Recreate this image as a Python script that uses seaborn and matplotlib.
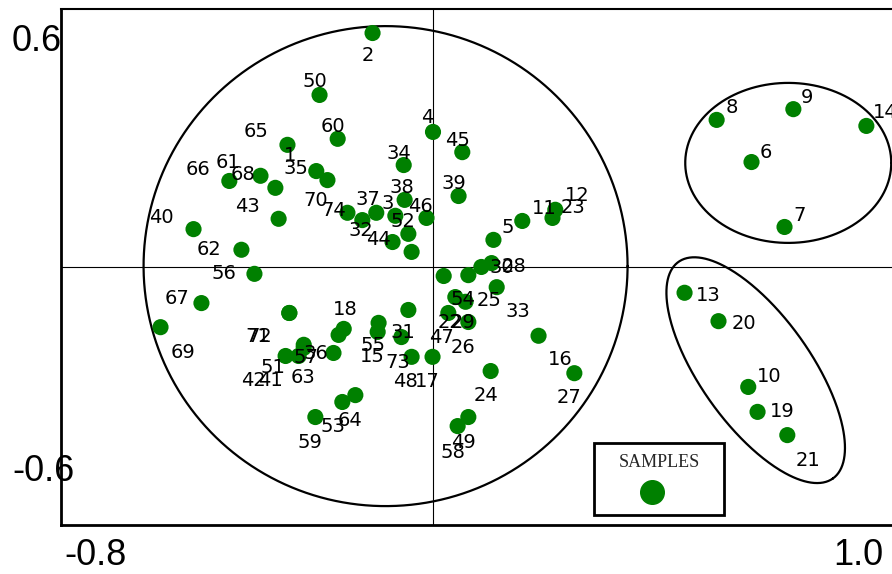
import numpy as np
import pandas as pd
import matplotlib
matplotlib.use("Agg")
import matplotlib.pyplot as plt
import matplotlib.transforms as mtransforms
from matplotlib.lines import Line2D
import seaborn as sns

# sample numbers and their coordinates on the two axes
sample_ids = list(range(1, 75))
x_vals = [-0.251, -0.130, -0.081, 0.000, 0.130, 0.685, 0.756, 0.610, 0.775, 0.678,
          0.192, 0.263, 0.541, 0.932, -0.119, 0.227, -0.001, -0.192, 0.698, 0.614,
          0.762, 0.048, 0.257, 0.124, 0.076, 0.076, 0.304, 0.126, 0.070, 0.104,
          -0.053, -0.087, 0.137, -0.063, -0.227, -0.203, -0.122, -0.061, 0.055, -0.515,
          -0.289, -0.317, -0.332, -0.046, 0.063, -0.014, 0.033, -0.046, 0.076, -0.244,
          -0.278, -0.053, -0.195, 0.023, -0.117, -0.384, -0.214, 0.053, -0.253, -0.205,
          -0.371, -0.412, -0.278, -0.167, -0.313, -0.438, -0.498, -0.339, -0.586, -0.184,
          -0.309, -0.309, -0.068, -0.152]
y_vals = [0.223, 0.544, 0.119, 0.314, 0.063, 0.244, 0.093, 0.342, 0.367, -0.279,
          0.107, 0.133, -0.060, 0.328, -0.151, -0.160, -0.209, -0.144, -0.337, -0.126,
          -0.391, -0.070, 0.114, -0.242, -0.019, -0.128, -0.247, 0.009, -0.081, 0.000,
          -0.100, 0.058, -0.047, 0.237, 0.202, -0.158, 0.126, 0.156, 0.165, 0.088,
          -0.207, -0.207, 0.112, 0.035, 0.267, 0.114, -0.107, -0.209, -0.349, 0.400,
          -0.181, 0.077, -0.314, -0.021, -0.130, -0.016, -0.200, -0.370, -0.349, 0.298,
          0.212, 0.040, -0.188, -0.298, 0.284, 0.200, -0.084, 0.184, -0.140, 0.126,
          -0.107, -0.107, -0.163, 0.109]

# where each number sits relative to its dot (pixels right, pixels down)
label_dx = [-26, -5, -8, -6, 14, 14, 15, 15, 14, 21,
            22, 22, 24, 19, -5, 22, -5, 2, 25, 25,
            21, -5, 21, -5, 21, -5, -5, 22, -3, 20,
            -5, -32, 21, -5, -32, -23, -8, -3, -5, -32,
            -28, -32, -31, -33, -5, -6, -7, -6, -5, -5,
            -31, -5, -9, 19, -6, -31, -28, -5, -5, -5,
            -32, -32, -1, -5, -31, -31, -24, -32, 22, -32,
            -32, -30, -4, -29]
label_dy = [-16, 22, -12, -14, -12, -10, -11, -12, -12, -10,
            -12, -14, 3, -13, 25, 24, 25, -19, 0, 2,
            25, 25, -10, 24, 25, 25, 24, 3, 21, 1,
            23, -12, 24, -12, -12, 19, -13, -12, -13, -12,
            25, 25, -12, -12, -12, -11, 25, 25, 25, -13,
            23, -12, 25, 24, 23, 0, 5, 26, 25, -12,
            -13, 0, 30, 25, -13, -11, -5, -13, 25, -12,
            24, 24, 25, -10]

x_ticks = [-0.8, -0.6, -0.4, -0.2, 0.0, 0.2, 0.4, 0.6, 0.8, 1.0]
x_tick_labels = ["-0.8", "", "", "", "", "", "", "", "", "1.0"]
y_ticks = [-0.6, -0.4, -0.2, 0.0, 0.2, 0.4, 0.6]
y_tick_labels = ["-0.6", "", "", "", "", "", "0.6"]

df = pd.DataFrame({"sample": sample_ids, "x": x_vals, "y": y_vals,
                   "dx": label_dx, "dy": label_dy})

sns.set_style("white")
plt.rcParams["font.family"] = ["DejaVu Sans"]

fig = plt.figure(figsize=(8.92, 5.74), dpi=100)
ax = fig.add_axes([0.0684, 0.0854, 0.9383, 0.8990])
ax.set_xlim(-0.8, 1.0)
ax.set_ylim(-0.6, 0.6)

ax.axhline(0, color="black", lw=0.8, zorder=1)
ax.axvline(0, color="black", lw=0.8, zorder=1)

sns.scatterplot(data=df, x="x", y="y", color="#008000", s=135,
                edgecolor="none", legend=False, ax=ax, zorder=3)

for _, row in df.iterrows():
    ax.annotate(str(int(row["sample"])), (row["x"], row["y"]),
                xytext=(row["dx"], -row["dy"]), textcoords="offset pixels",
                ha="center", va="center", fontsize=14, color="black", zorder=4)


# group outlines, sized in screen pixels so the tilt looks right
def draw_ring(cx, cy, a_px, b_px, angle):
    t = np.linspace(0, 2 * np.pi, 400)
    ca, sa = np.cos(np.radians(angle)), np.sin(np.radians(angle))
    u, v = a_px * np.cos(t), b_px * np.sin(t)
    X0, Y0 = ax.transData.transform((cx, cy))
    pts = np.column_stack([X0 + u * ca - v * sa, Y0 + u * sa + v * ca])
    d = ax.transData.inverted().transform(pts)
    ax.plot(d[:, 0], d[:, 1], color="black", lw=1.6, zorder=2)


draw_ring(-0.102, 0.002, 242, 240, 0)
draw_ring(0.764, 0.242, 103, 80, 0)
draw_ring(0.694, -0.240, 133, 55, -54.5)
ax.set_xlim(-0.8, 1.0)
ax.set_ylim(-0.6, 0.6)

# legend box
handle = Line2D([], [], marker="o", linestyle="none", markerfacecolor="#008000",
                markeredgecolor="#008000", markersize=17)
leg = ax.legend(handles=[handle], labels=[""], title="SAMPLES",
                loc="upper left", bbox_to_anchor=(0.6368, 0.1589), borderaxespad=0,
                frameon=True, fancybox=False, edgecolor="black", framealpha=1,
                fontsize=13, borderpad=0.6, labelspacing=0.75, handlelength=5.2,
                handleheight=1.3,
                title_fontproperties={"family": "Liberation Serif", "size": 13})
leg.get_frame().set_linewidth(2)

# axes look
for side in ["left", "bottom"]:
    ax.spines[side].set_linewidth(2)
    ax.spines[side].set_color("black")
ax.spines["top"].set_linewidth(1.5)
ax.spines["top"].set_color("black")
ax.spines["right"].set_visible(False)

ax.set_xticks(x_ticks)
ax.set_xticklabels(x_tick_labels, fontsize=26, family="Liberation Sans")
ax.set_yticks(y_ticks)
ax.set_yticklabels(y_tick_labels, fontsize=26, family="Liberation Sans")
ax.tick_params(direction="inout", length=7, width=1.5, colors="black")
ax.set_xlabel("")
ax.set_ylabel("")

# the end labels sit inside the axis span in the original
shifts_x = {0: (34, -3), 9: (-40, -3)}
for i, lab in enumerate(ax.get_xticklabels()):
    if i in shifts_x:
        dx, dy = shifts_x[i]
        lab.set_transform(lab.get_transform() +
                          mtransforms.ScaledTranslation(dx / 100, dy / 100, fig.dpi_scale_trans))
shifts_y = {0: (23, 57), 6: (10, -29)}
for i, lab in enumerate(ax.get_yticklabels()):
    if i in shifts_y:
        dx, dy = shifts_y[i]
        lab.set_transform(lab.get_transform() +
                          mtransforms.ScaledTranslation(dx / 100, dy / 100, fig.dpi_scale_trans))

fig.savefig("out.png", dpi=100)
